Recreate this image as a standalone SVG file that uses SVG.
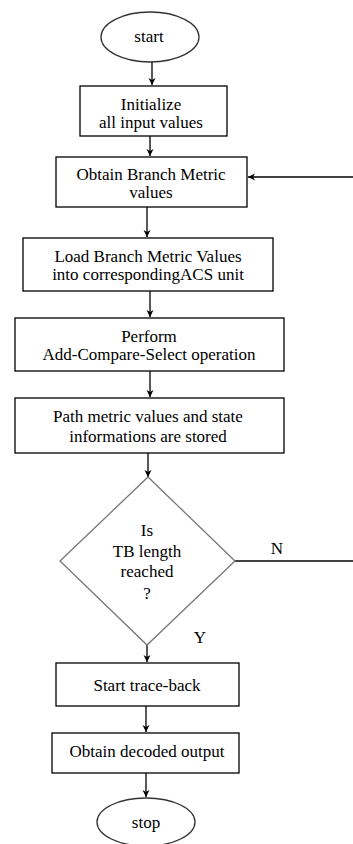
<svg xmlns="http://www.w3.org/2000/svg" width="353" height="844" viewBox="0 0 353 844">
<style>
.box{fill:#fff;stroke:#000;stroke-width:1.3}
.ell{fill:#fff;stroke:#333;stroke-width:1.3}
.dia{fill:#fff;stroke:#777;stroke-width:1.3}
.t{font-size:17px;fill:#000;text-anchor:middle}
.c{stroke:#000;stroke-width:1.3;fill:none}
</style>
<defs>
<marker id="ah" markerWidth="8" markerHeight="8" refX="7" refY="4" orient="auto" markerUnits="userSpaceOnUse">
<path d="M0,0.5 L7,4 L0,7.5 L2,4 Z" fill="#000"/>
</marker>
</defs>
<g id="connectors" font-family="'Liberation Serif', 'Times New Roman', serif">
<line class="c" x1="152" y1="62" x2="152" y2="85" marker-end="url(#ah)"/>
<line class="c" x1="150" y1="136" x2="150" y2="156" marker-end="url(#ah)"/>
<line class="c" x1="353" y1="177" x2="248" y2="177" marker-end="url(#ah)"/>
<line class="c" x1="147" y1="207" x2="147" y2="237" marker-end="url(#ah)"/>
<line class="c" x1="150" y1="291" x2="150" y2="317" marker-end="url(#ah)"/>
<line class="c" x1="150" y1="371" x2="150" y2="397" marker-end="url(#ah)"/>
<line class="c" x1="148" y1="453" x2="148" y2="477" marker-end="url(#ah)"/>
<line class="c" x1="235" y1="561" x2="353" y2="561"/>
<line class="c" x1="147" y1="645" x2="147" y2="662" marker-end="url(#ah)"/>
<line class="c" x1="146" y1="706" x2="146" y2="732" marker-end="url(#ah)"/>
<line class="c" x1="146" y1="773" x2="146" y2="797" marker-end="url(#ah)"/>
<text class="t" x="277" y="554">N</text>
<text class="t" x="200" y="643">Y</text>
</g>
<g id="start" font-family="'Liberation Serif', 'Times New Roman', serif">
<ellipse class="ell" cx="150" cy="37" rx="49" ry="25"/>
<text class="t" x="149" y="42">start</text>
</g>
<g id="init" font-family="'Liberation Serif', 'Times New Roman', serif">
<rect class="box" x="80" y="86" width="147" height="50"/>
<text class="t" x="151" y="110">Initialize</text>
<text class="t" x="151" y="128">all input values</text>
</g>
<g id="obtain" font-family="'Liberation Serif', 'Times New Roman', serif">
<rect class="box" x="56" y="157" width="191" height="50"/>
<text class="t" x="151" y="180">Obtain Branch Metric</text>
<text class="t" x="151" y="198">values</text>
</g>
<g id="load" font-family="'Liberation Serif', 'Times New Roman', serif">
<rect class="box" x="23" y="238" width="250" height="53"/>
<text class="t" x="148" y="262">Load Branch Metric Values</text>
<text class="t" x="148" y="280">into correspondingACS unit</text>
</g>
<g id="perform" font-family="'Liberation Serif', 'Times New Roman', serif">
<rect class="box" x="15" y="318" width="269" height="53"/>
<text class="t" x="149" y="342">Perform</text>
<text class="t" x="149" y="360">Add-Compare-Select operation</text>
</g>
<g id="store" font-family="'Liberation Serif', 'Times New Roman', serif">
<rect class="box" x="15" y="398" width="269" height="55"/>
<text class="t" x="148" y="422">Path metric values and  state</text>
<text class="t" x="148" y="442">informations are stored</text>
</g>
<g id="decision" font-family="'Liberation Serif', 'Times New Roman', serif">
<polygon class="dia" points="148,477 235,561 147,645 60,561"/>
<text class="t" x="147" y="536">Is</text>
<text class="t" x="147" y="557">TB length</text>
<text class="t" x="147" y="577">reached</text>
<text class="t" x="147" y="599">?</text>
</g>
<g id="traceback" font-family="'Liberation Serif', 'Times New Roman', serif">
<rect class="box" x="56" y="663" width="183" height="43"/>
<text class="t" x="147" y="691">Start trace-back</text>
</g>
<g id="decoded" font-family="'Liberation Serif', 'Times New Roman', serif">
<rect class="box" x="52" y="733" width="187" height="40"/>
<text class="t" x="147" y="757">Obtain decoded output</text>
</g>
<g id="stop" font-family="'Liberation Serif', 'Times New Roman', serif">
<ellipse class="ell" cx="146" cy="822" rx="49" ry="24"/>
<text class="t" x="146" y="828">stop</text>
</g>
</svg>
